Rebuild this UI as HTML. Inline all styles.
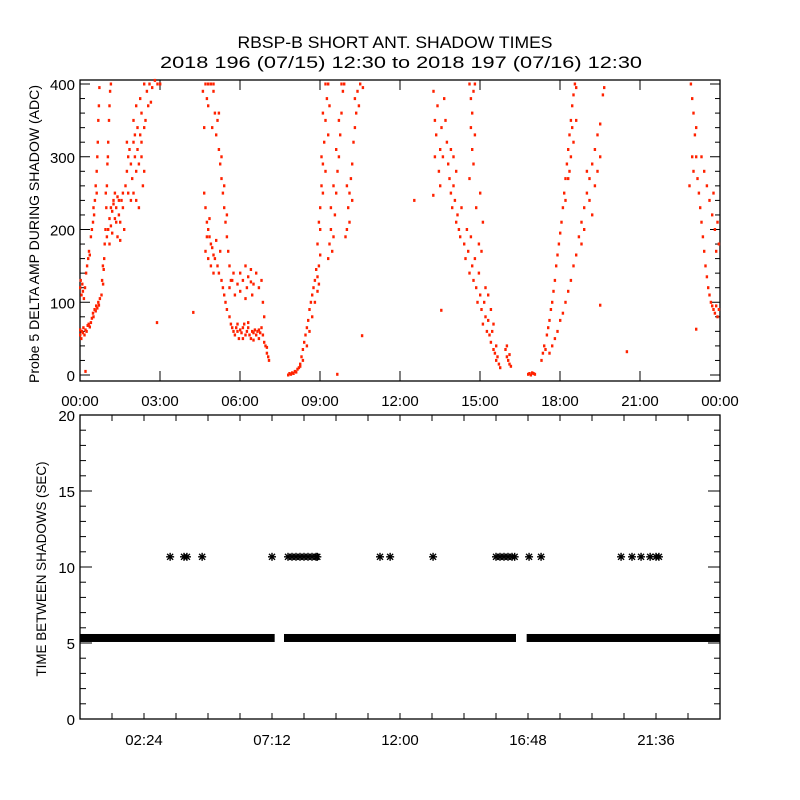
<!DOCTYPE html>
<html><head><meta charset="utf-8"><style>
body{margin:0;background:#fff}
svg{display:block}
text{font-family:"Liberation Sans",sans-serif;fill:#000}
</style></head><body>
<svg id="chart" width="800" height="800" viewBox="0 0 800 800">
<rect width="800" height="800" fill="#fff"/>
<text x="395" y="48" font-size="17" text-anchor="middle" textLength="315" lengthAdjust="spacingAndGlyphs">RBSP-B SHORT ANT. SHADOW TIMES</text>
<text x="401" y="68" font-size="17" text-anchor="middle" textLength="482" lengthAdjust="spacingAndGlyphs">2018 196 (07/15) 12:30 to 2018 197 (07/16) 12:30</text>
<text transform="translate(39,234) rotate(-90)" font-size="14" text-anchor="middle" textLength="298" lengthAdjust="spacingAndGlyphs">Probe 5 DELTA AMP DURING SHADOW (ADC)</text>
<text transform="translate(46,569) rotate(-90)" font-size="14" text-anchor="middle" textLength="215" lengthAdjust="spacingAndGlyphs">TIME BETWEEN SHADOWS (SEC)</text>
<g id="topPanel"></g>
<g id="botPanel"></g>
</svg>
<script>
// ---- top panel data (hour, ADC amplitude) ----
const ampHours = [0,0,0.04,0.06,0.1,0.12,0.16,0.2,0.24,0.28,0.32,0.36,0.4,0.44,0.48,0.5,0.54,0.58,0.6,0.64,0.68,0.7,0.74,
0,0.02,0.05,0.08,0.1,0.14,0.18,0.22,0.26,0.3,0.33,0.36,0.4,0.44,0.48,0.52,0.55,0.58,0.62,0.64,0.66,0.68,0.7,0.72,0.62,0.5,
0.8,0.82,0.85,0.88,0.9,0.92,0.95,0.98,1.0,1.02,1.05,1.08,1.1,1.12,1.15,0.96,1.04,0.86,
1.0,1.05,1.1,1.15,1.2,1.25,1.3,1.35,1.4,1.45,1.5,1.55,1.6,1.65,1.1,1.2,1.3,1.4,1.5,1.6,1.25,1.35,1.45,1.15,
1.7,1.75,1.8,1.85,1.9,1.95,2.0,2.05,2.1,2.15,2.2,2.25,2.3,2.35,2.4,1.8,1.9,2.0,2.1,2.2,1.75,2.05,2.3,2.4,
2.0,2.1,2.15,2.25,2.3,2.4,2.5,2.55,2.6,2.7,2.8,2.9,3.0,2.65,2.45,
0.2,2.88,4.24,
4.6,4.7,4.75,4.8,4.9,5.0,5.05,4.95,5.1,5.15,5.2,5.25,5.3,5.35,5.4,5.45,5.5,5.55,5.6,5.65,5.2,5.3,5.4,5.5,4.65,4.8,5.0,
4.65,4.7,4.75,4.8,4.85,4.9,4.95,5.0,5.05,5.1,5.15,5.2,5.3,5.35,5.4,4.7,4.8,4.9,5.0,4.75,4.85,5.25,5.45,5.5,
5.6,5.65,5.7,5.75,5.8,5.85,5.9,5.95,6.0,6.05,6.1,6.15,6.2,6.25,6.3,6.35,6.4,6.45,6.5,6.55,6.6,6.65,6.7,6.75,6.8,6.85,6.9,5.9,6.1,6.3,6.5,6.7,
5.6,5.7,5.8,5.9,6.0,6.1,6.2,6.25,6.3,6.4,6.45,6.5,6.6,6.7,6.8,6.85,6.9,6.0,6.2,6.4,5.75,
6.95,7.0,7.05,7.08,7.0,
7.8,7.85,7.9,7.95,8.0,8.05,8.1,8.15,8.2,8.25,
8.25,8.3,8.35,8.35,8.4,8.45,8.5,8.5,8.55,8.6,8.6,8.65,8.7,8.7,8.75,8.8,8.8,8.85,8.9,8.9,8.95,8.95,9.0,
8.9,8.95,9.0,9.05,9.1,9.15,9.2,9.25,9.3,9.0,9.1,9.2,9.3,9.35,9.1,9.2,9.05,
9.3,9.35,9.4,9.45,9.5,9.55,9.6,9.65,9.7,9.75,9.8,9.85,9.9,9.5,9.6,9.7,9.8,9.4,
9.95,10.0,10.05,10.1,10.15,10.2,10.25,10.3,10.35,10.4,10.45,10.5,10.6,10.1,10.2,10.3,10.0,
12.53,10.57,9.64,13.24,13.54,
13.25,13.3,13.3,13.35,13.4,13.45,13.5,13.5,13.55,13.6,13.65,13.7,13.75,13.8,13.85,13.9,13.95,14.0,14.05,14.1,14.15,14.2,14.25,14.3,13.9,14.0,14.1,
14.6,14.65,14.7,14.75,14.65,14.7,14.75,14.8,14.8,14.6,
14.4,14.45,14.5,14.55,14.6,14.65,14.7,14.75,14.8,14.85,14.9,14.95,15.0,15.05,15.1,15.15,15.2,15.25,15.3,15.35,15.4,15.45,15.5,15.55,15.6,15.65,15.7,15.75,15.6,14.95,15.1,14.85,15.0,15.05,15.2,15.3,15.4,15.5,
15.95,16.0,16.05,16.1,16.15,16.0,16.1,
16.8,16.85,16.9,16.95,17.0,17.05,
17.3,17.35,17.4,17.45,17.5,17.55,17.6,17.65,17.7,17.75,17.8,17.85,17.9,17.95,18.0,18.05,18.1,18.15,18.2,18.25,18.3,18.35,18.4,18.45,18.5,18.55,18.6,18.5,18.4,18.3,18.2,18.45,18.35,18.6,
17.6,17.7,17.8,17.9,18.0,18.1,18.2,18.3,18.4,18.5,18.6,18.7,18.8,18.9,19.0,19.1,19.2,19.3,19.4,19.5,19.6,19.65,18.9,19.0,19.1,19.2,19.3,18.8,19.4,19.5,
19.5,20.5,
22.9,22.95,23.0,23.05,22.95,23.0,23.1,23.15,23.2,23.25,23.3,23.35,23.4,23.45,23.5,23.55,23.6,23.65,23.7,23.75,23.8,23.85,23.9,23.95,23.5,23.6,23.7,23.8,23.9,23.95,23.3,23.4,23.1,22.85,23.85,23.75,
23.1];
const ampValues = [55,62,50,60,58,65,55,62,60,68,70,66,72,78,85,80,90,88,95,92,100,96,105,
120,130,110,125,115,105,120,140,150,160,170,165,190,200,210,220,240,260,280,300,320,350,370,395,250,230,
110,130,150,145,160,180,200,230,260,290,320,350,370,390,400,250,300,125,
190,200,215,205,225,235,215,230,245,220,210,240,230,200,180,195,250,190,185,250,240,210,240,230,
260,280,300,310,290,270,320,300,280,310,290,330,300,260,280,250,240,250,240,230,320,330,320,340,
350,370,340,380,360,400,390,370,400,395,405,400,400,375,350,
5,72,86,
390,400,380,370,400,390,360,340,330,350,310,290,270,250,230,210,190,170,150,130,360,300,260,220,340,400,400,
250,230,210,200,190,180,175,165,160,185,150,140,130,120,110,170,160,150,140,190,215,170,100,90,
80,70,65,60,55,65,60,50,62,58,65,70,55,60,65,55,50,60,58,62,55,60,50,58,65,55,45,70,50,72,48,62,
120,130,110,125,140,130,150,120,135,145,110,125,140,120,130,100,80,115,105,128,140,
40,30,25,20,38,
0,2,1,3,2,5,4,8,10,12,
15,25,35,20,45,55,65,40,75,90,60,100,110,80,120,130,100,145,135,115,150,125,165,
180,210,230,260,290,320,350,380,400,200,250,280,330,370,360,400,300,
160,180,200,170,190,220,250,280,300,330,360,390,400,260,310,350,400,230,
190,200,230,250,270,290,320,340,360,390,370,400,395,210,240,380,260,
240,54,1,247,89,
390,350,300,330,370,280,310,260,340,300,380,350,320,290,270,250,230,260,240,210,220,200,190,230,310,300,280,
400,380,360,390,340,310,290,400,330,270,
180,160,200,170,140,190,150,130,160,120,100,140,110,90,70,100,80,60,75,55,45,60,35,30,20,25,15,10,40,180,210,230,250,170,120,110,90,70,
35,25,20,15,12,40,28,
1,2,0,3,2,1,
20,30,40,35,55,65,75,90,100,115,130,150,165,180,195,210,230,250,270,290,310,330,350,370,385,400,395,320,300,270,240,340,280,350,
30,40,50,60,75,85,100,115,130,150,165,190,210,230,250,270,290,310,330,345,385,395,200,280,240,220,260,180,280,300,
96,32,
400,380,360,330,300,280,300,270,250,230,210,190,170,150,135,120,110,100,95,90,85,95,80,90,260,240,220,200,210,180,300,280,340,260,170,250,
63];
// ---- bottom panel data ----
const shortGapValue = [5.33,5.33,5.33];
const shortRunStart = [0,7.65,16.75];
const shortRunEnd = [7.3,16.35,24];
const longGapHours = [3.38,3.9,4.01,4.58,7.2,7.8,7.95,8.1,8.25,8.4,8.55,8.7,8.85,8.9,11.25,11.63,13.24,15.6,15.75,15.9,16.05,16.2,16.3,16.84,17.29,20.29,20.7,21.04,21.38,21.6,21.71];
const longGapValues = [10.67,10.67,10.67,10.67,10.67,10.67,10.67,10.67,10.67,10.67,10.67,10.67,10.67,10.67,10.67,10.67,10.67,10.67,10.67,10.67,10.67,10.67,10.67,10.67,10.67,10.67,10.67,10.67,10.67,10.67,10.67];
const topXTickHours = [0,3,6,9,12,15,18,21,24];
const topXTickLabels = ["00:00","03:00","06:00","09:00","12:00","15:00","18:00","21:00","00:00"];
const topYTicks = [0,100,200,300,400];
const botXTickHours = [2.4,7.2,12,16.8,21.6];
const botXTickLabels = ["02:24","07:12","12:00","16:48","21:36"];
const botYTicks = [0,5,10,15,20];

const NS="http://www.w3.org/2000/svg";
const L=80,R=720;
const xs=h=>L+(R-L)*h/24;
const ty=v=>375-v*0.7275;
const by=v=>719-v*15.2;
function mk(tag,attrs,parent){const e=document.createElementNS(NS,tag);for(const k in attrs)e.setAttribute(k,attrs[k]);parent.appendChild(e);return e;}
const topG=document.getElementById('topPanel'),botG=document.getElementById('botPanel');

// top frame
let f=mk('rect',{x:L,y:80,width:R-L,height:301,fill:'none',stroke:'#000','stroke-width':1.3},topG);


for(let v=0;v<=400;v+=20){const y=ty(v);const len=v%100===0?10:5;
 let t=mk('line',{x1:L,x2:L+len,y1:y,y2:y,stroke:'#000'},topG);
 
 
 mk('line',{x1:R,x2:R-len,y1:y,y2:y,stroke:'#000'},topG);}
topYTicks.forEach(v=>{let t=mk('text',{x:L-5,y:ty(v)+6,'font-size':15,'text-anchor':'end'},topG);t.textContent=v;
 
 });
topXTickHours.forEach((h,i)=>{const x=xs(h);
 mk('line',{x1:x,x2:x,y1:381,y2:371,stroke:'#000'},topG);mk('line',{x1:x,x2:x,y1:80,y2:90,stroke:'#000'},topG);
 let t=mk('text',{x:x,y:406,'font-size':15,'text-anchor':'middle'},topG);t.textContent=topXTickLabels[i];
 
 });
// top points
ampHours.forEach((h,i)=>{const v=ampValues[i];if(v>406)return;
 let p=mk('rect',{x:(xs(h)-1).toFixed(1),y:(ty(v)-1.5).toFixed(1),width:2.4,height:3,fill:'#ff2200'},topG);
 
 });

// bottom frame
f=mk('rect',{x:L,y:415,width:R-L,height:304,fill:'none',stroke:'#000','stroke-width':1.3},botG);


for(let v=0;v<=20;v++){const y=by(v);const len=v%5===0?12:6;
 mk('line',{x1:L,x2:L+len,y1:y,y2:y,stroke:'#000'},botG);mk('line',{x1:R,x2:R-len,y1:y,y2:y,stroke:'#000'},botG);}
botYTicks.forEach(v=>{let t=mk('text',{x:L-5,y:by(v)+6,'font-size':15,'text-anchor':'end'},botG);t.textContent=v;
 
 });
for(let h=1.2;h<24;h+=1.2){const x=xs(h);
 mk('line',{x1:x,x2:x,y1:719,y2:713,stroke:'#000'},botG);mk('line',{x1:x,x2:x,y1:415,y2:421,stroke:'#000'},botG);}
botXTickHours.forEach((h,i)=>{let t=mk('text',{x:xs(h),y:745,'font-size':15,'text-anchor':'middle'},botG);t.textContent=botXTickLabels[i];
 
 });
// short gap runs
shortRunStart.forEach((s,i)=>{const y=by(shortGapValue[i]);
 let r=mk('rect',{x:xs(s),y:y-4,width:xs(shortRunEnd[i])-xs(s),height:8,fill:'#000'},botG);
 
 });
// long gap asterisks
longGapHours.forEach((h,i)=>{const x=xs(h),y=by(longGapValues[i]);
 let g=mk('g',{stroke:'#000','stroke-width':1.4},botG);
 
 
 mk('line',{x1:x-4,x2:x+4,y1:y,y2:y},g);mk('line',{x1:x,x2:x,y1:y-4,y2:y+4},g);
 mk('line',{x1:x-3,x2:x+3,y1:y-3,y2:y+3},g);mk('line',{x1:x-3,x2:x+3,y1:y+3,y2:y-3},g);});
</script>
</body></html>
